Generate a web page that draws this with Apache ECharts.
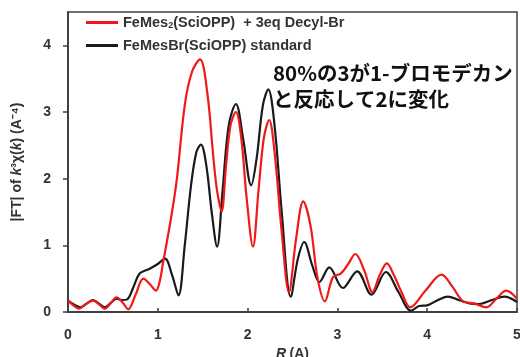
<!DOCTYPE html>
<html>
<head>
<meta charset="utf-8">
<script src="https://cdn.jsdelivr.net/npm/echarts@6/dist/echarts.min.js"></script>
<style>
  html, body { margin: 0; padding: 0; background: #fff; }
  #chart { width: 520px; height: 357px; }
</style>
</head>
<body>
<div id="chart"></div>
<script>
// FeMes2(SciOPP) + 3eq Decyl-Br (red)
const rRed = [0, 0.06, 0.12, 0.2, 0.28, 0.35, 0.41, 0.48, 0.54, 0.61, 0.67, 0.75, 0.84, 0.91, 0.98, 1.02,
  1.06, 1.14, 1.21, 1.3, 1.38, 1.47, 1.55, 1.62, 1.66, 1.71, 1.76, 1.81, 1.87, 1.93, 1.99, 2.06,
  2.12, 2.18, 2.24, 2.3, 2.38, 2.46, 2.54, 2.62, 2.7, 2.78, 2.86, 2.95, 3.04, 3.12, 3.2, 3.3,
  3.39, 3.47, 3.55, 3.63, 3.72, 3.81, 3.98, 4.16, 4.28, 4.4, 4.52, 4.66, 4.77, 4.88, 5.0]
const ftRed = [0.17, 0.1, 0.05, 0.12, 0.17, 0.11, 0.05, 0.14, 0.22, 0.14, 0.04, 0.25, 0.5, 0.42, 0.32, 0.45,
  0.75, 1.35, 1.97, 3.1, 3.6, 3.79, 3.3, 2.3, 1.82, 1.51, 2.2, 2.8, 3.0, 2.6, 1.7, 0.98,
  1.8, 2.6, 2.88, 2.4, 1.2, 0.3, 1.1, 1.66, 1.3, 0.5, 0.16, 0.52, 0.58, 0.72, 0.87, 0.62,
  0.3, 0.55, 0.73, 0.55, 0.28, 0.07, 0.32, 0.56, 0.38, 0.16, 0.13, 0.07, 0.2, 0.32, 0.2]

// FeMesBr(SciOPP) standard (black)
const rBlack = [0, 0.07, 0.14, 0.21, 0.28, 0.35, 0.41, 0.48, 0.54, 0.6, 0.66, 0.73, 0.8, 0.91, 1.0, 1.08,
  1.16, 1.23, 1.3, 1.37, 1.43, 1.48, 1.54, 1.6, 1.66, 1.72, 1.79, 1.87, 1.95, 2.04, 2.1, 2.17,
  2.23, 2.3, 2.38, 2.48, 2.56, 2.63, 2.72, 2.8, 2.91, 3.06, 3.22, 3.38, 3.54, 3.68, 3.82, 3.91,
  4.0, 4.12, 4.23, 4.35, 4.47, 4.58, 4.72, 4.86, 5.0]
const ftBlack = [0.17, 0.11, 0.07, 0.13, 0.18, 0.12, 0.07, 0.14, 0.2, 0.18, 0.19, 0.38, 0.58, 0.65, 0.72, 0.8,
  0.55, 0.25, 1.0, 1.9, 2.4, 2.51, 2.2, 1.5, 0.98, 1.8, 2.8, 3.12, 2.6, 1.9, 2.3, 3.1,
  3.34, 2.8, 1.5, 0.23, 0.8, 1.05, 0.7, 0.45, 0.67, 0.36, 0.61, 0.26, 0.6, 0.3, 0.02, 0.09,
  0.1, 0.18, 0.23, 0.18, 0.13, 0.12, 0.18, 0.23, 0.15]

const seriesNames = ['FeMes2(SciOPP)  + 3eq Decyl-Br', 'FeMesBr(SciOPP) standard']
const noteLines = ['80%の3が1-ブロモデカン', 'と反応して2に変化']

const font = "'Liberation Sans', Arial, sans-serif"
const toPairs = (xs, ys) => xs.map((x, i) => [x, ys[i]])

const chart = echarts.init(document.getElementById('chart'))
chart.setOption({
  animation: false,
  grid: {
    left: 68, right: 3, top: 12, bottom: 45,
    outerBoundsMode: 'none',
    show: true, borderColor: '#404040', borderWidth: 1.5
  },
  legend: {
    orient: 'vertical',
    left: 81, top: 10,
    itemWidth: 32, itemHeight: 3, itemGap: 8,
    icon: 'rect',
    // subscript the "2" of FeMes2
    formatter: (name) => name.startsWith('FeMes2')
      ? '{a|FeMes}{s|2}{a|' + name.slice(6) + '}'
      : '{a|' + name + '}',
    textStyle: {
      rich: {
        a: { fontFamily: font, fontWeight: 'bold', fontSize: 14.5, color: '#333' },
        s: { fontFamily: font, fontWeight: 'bold', fontSize: 9, color: '#333', padding: [6, 0, 0, 0] }
      }
    },
    data: seriesNames
  },
  xAxis: {
    type: 'value', min: 0, max: 5, interval: 1,
    name: '{i|R} {n|(A)}', nameLocation: 'middle', nameGap: 33,
    nameTextStyle: {
      rich: {
        i: { fontFamily: font, fontWeight: 'bold', fontStyle: 'italic', fontSize: 14, color: '#333' },
        n: { fontFamily: font, fontWeight: 'bold', fontSize: 14, color: '#333' }
      }
    },
    axisLine: { lineStyle: { color: '#404040', width: 2 } },
    axisTick: { inside: true, length: 4, lineStyle: { color: '#404040', width: 1.5 } },
    axisLabel: { fontFamily: font, fontWeight: 'bold', fontSize: 14, color: '#333', margin: 16 },
    splitLine: { show: false }
  },
  yAxis: {
    type: 'value', min: 0, max: 4.5, interval: 1,
    name: '{n||FT| of }{i|k}{n|³χ(}{i|k}{n|) (A⁻⁴)}', nameLocation: 'middle', nameGap: 44,
    nameTextStyle: {
      rich: {
        i: { fontFamily: font, fontWeight: 'bold', fontStyle: 'italic', fontSize: 14, color: '#333' },
        n: { fontFamily: font, fontWeight: 'bold', fontSize: 14, color: '#333' }
      }
    },
    axisLine: { show: true, lineStyle: { color: '#404040', width: 2 } },
    axisTick: { show: true, length: 5, lineStyle: { color: '#404040', width: 1.5 } },
    axisLabel: { fontFamily: font, fontWeight: 'bold', fontSize: 14, color: '#333', margin: 17, showMaxLabel: false },
    splitLine: { show: false }
  },
  graphic: [{
    type: 'text', left: 273, top: 60,
    style: {
      text: noteLines.join('\n'),
      font: "bold 20.5px 'Noto Sans CJK JP', sans-serif",
      lineHeight: 26, fill: '#111'
    }
  }],
  series: [
    {
      name: seriesNames[0], type: 'line', data: toPairs(rRed, ftRed),
      smooth: 0.35, showSymbol: false, z: 3,
      itemStyle: { color: '#f01818' }, lineStyle: { color: '#f01818', width: 2.2 }
    },
    {
      name: seriesNames[1], type: 'line', data: toPairs(rBlack, ftBlack),
      smooth: 0.35, showSymbol: false, z: 2,
      itemStyle: { color: '#1a1a1a' }, lineStyle: { color: '#1a1a1a', width: 2.2 }
    }
  ]
})
</script>
</body>
</html>
